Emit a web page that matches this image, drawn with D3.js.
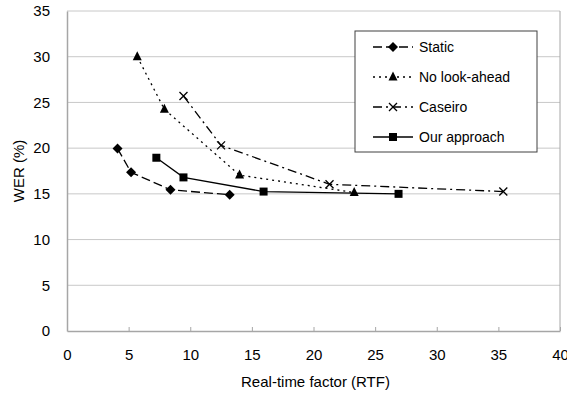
<!DOCTYPE html>
<html>
<head>
<meta charset="utf-8">
<script src="https://cdn.jsdelivr.net/npm/d3@7"></script>
<style>
  body { margin: 0; background: #fff; }
  text { font-family: "Liberation Sans", Arial, sans-serif; fill: #000; }
</style>
</head>
<body>
<svg width="567" height="396"></svg>
<script>
// values
var seriesNames = ["Static", "No look-ahead", "Caseiro", "Our approach"];
var staticRTF = [4.1, 5.2, 8.4, 13.2];
var staticWER = [19.95, 17.35, 15.45, 14.9];
var noLookRTF = [5.7, 7.9, 14.0, 23.3];
var noLookWER = [30.0, 24.25, 17.05, 15.15];
var caseiroRTF = [9.45, 12.5, 21.3, 35.4];
var caseiroWER = [25.7, 20.3, 16.05, 15.25];
var oursRTF = [7.25, 9.45, 15.95, 26.9];
var oursWER = [18.95, 16.8, 15.25, 15.0];
var xTicks = [0, 5, 10, 15, 20, 25, 30, 35, 40];
var yTicks = [0, 5, 10, 15, 20, 25, 30, 35];

var svg = d3.select("svg"),
    margin = {top: 11, right: 7, bottom: 65, left: 67},
    width = +svg.attr("width") - margin.left - margin.right,
    height = +svg.attr("height") - margin.top - margin.bottom,
    g = svg.append("g").attr("transform", "translate(" + margin.left + "," + margin.top + ")");

var x = d3.scaleLinear().domain([0, 40]).range([0, width]);
var y = d3.scaleLinear().domain([0, 35]).range([height, 0]);

// gridlines
g.append("g").selectAll("line")
    .data(yTicks.filter(function(d) { return d > 0; }))
    .enter().append("line")
    .attr("x1", 0).attr("x2", width)
    .attr("y1", function(d) { return y(d); }).attr("y2", function(d) { return y(d); })
    .attr("stroke", "#c8c8c8").attr("stroke-width", 1);

// right border of plot area
g.append("line")
    .attr("x1", width).attr("x2", width).attr("y1", 0).attr("y2", height)
    .attr("stroke", "#a6a6a6");

// axes
var xAxis = g.append("g")
    .attr("transform", "translate(0," + height + ")")
    .call(d3.axisBottom(x).tickValues(xTicks).tickSizeInner(-4).tickSizeOuter(0).tickPadding(18));
var yAxis = g.append("g")
    .call(d3.axisLeft(y).tickValues(yTicks).tickSize(0).tickPadding(17));

[xAxis, yAxis].forEach(function(ax) {
    ax.select(".domain").attr("stroke", "#a6a6a6").attr("stroke-width", 1.5);
    ax.selectAll(".tick line").attr("stroke", "#a6a6a6");
    ax.selectAll(".tick text").style("font-size", "15px").attr("fill", "#000")
        .style("font-family", "'Liberation Sans', Arial, sans-serif");
});
xAxis.selectAll(".tick").filter(function(d) { return d === 0; }).select("line").remove();

svg.append("text")
    .attr("x", margin.left + width / 2 + 2).attr("y", 387)
    .attr("text-anchor", "middle").style("font-size", "15px")
    .text("Real-time factor (RTF)");
svg.append("text")
    .attr("transform", "translate(24," + (margin.top + height / 2) + ") rotate(-90)")
    .attr("text-anchor", "middle").style("font-size", "15px")
    .text("WER (%)");

var series = [
    {name: seriesNames[0], xs: staticRTF, ys: staticWER, dash: "9,4", marker: "diamond"},
    {name: seriesNames[1], xs: noLookRTF, ys: noLookWER, dash: "2,4", marker: "triangle"},
    {name: seriesNames[2], xs: caseiroRTF, ys: caseiroWER, dash: "9,4,2,4", marker: "x"},
    {name: seriesNames[3], xs: oursRTF, ys: oursWER, dash: null, marker: "square"}
];

var markerPaths = {
    diamond: "M0,-5L5,0L0,5L-5,0Z",
    triangle: "M0,-5.5L4.5,3.5L-4.5,3.5Z",
    square: "M-4,-4H4V4H-4Z"
};

var line = d3.line().x(function(d) { return x(d[0]); }).y(function(d) { return y(d[1]); });

function drawMarker(sel, s) {
    if (s.marker === "x") {
        sel.append("path").attr("d", "M-4,-4L4,4M-4,4L4,-4")
            .attr("stroke", "#000").attr("stroke-width", 1.3).attr("fill", "none");
    } else {
        sel.append("path").attr("d", markerPaths[s.marker]).attr("fill", "#000");
    }
}

series.forEach(function(s) {
    var pts = s.xs.map(function(v, i) { return [v, s.ys[i]]; });
    g.append("path").datum(pts)
        .attr("d", line)
        .attr("fill", "none").attr("stroke", "#000").attr("stroke-width", 1.3)
        .attr("stroke-dasharray", s.dash);
    g.selectAll(null).data(pts).enter().append("g")
        .attr("transform", function(d) { return "translate(" + x(d[0]) + "," + y(d[1]) + ")"; })
        .each(function() { drawMarker(d3.select(this), s); });
});

// legend
var legend = svg.append("g").attr("transform", "translate(355,31)");
legend.append("rect")
    .attr("width", 182).attr("height", 121)
    .attr("fill", "#fff").attr("stroke", "#404040").attr("stroke-width", 1);
series.forEach(function(s, i) {
    var row = legend.append("g").attr("transform", "translate(0," + (16 + i * 30) + ")");
    row.append("line").attr("x1", 18).attr("x2", 58).attr("y1", 0).attr("y2", 0)
        .attr("stroke", "#000").attr("stroke-width", 1.3).attr("stroke-dasharray", s.dash);
    drawMarker(row.append("g").attr("transform", "translate(38,0)"), s);
    row.append("text").attr("x", 64).attr("y", 0).attr("dy", "0.35em")
        .style("font-size", "14px").text(s.name);
});
</script>
</body>
</html>
